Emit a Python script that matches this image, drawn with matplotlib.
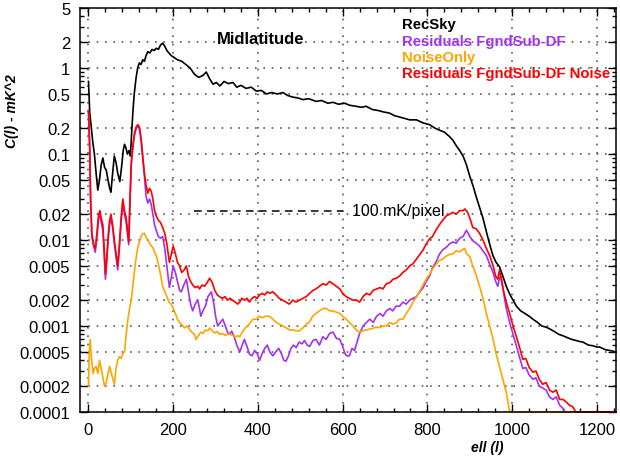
import numpy as np
import matplotlib
matplotlib.use('Agg')
import matplotlib.pyplot as plt
import matplotlib.transforms as mtransforms
from matplotlib.ticker import FixedLocator, FixedFormatter, MultipleLocator, LogLocator, NullFormatter

plt.rcParams['font.family'] = ['Liberation Sans', 'DejaVu Sans']

# RecSky
sky_ell = [0, 3, 6, 10, 14, 18, 22, 26, 30, 34, 38, 42, 46, 50, 53, 57, 61, 65, 69, 74, 78, 82, 85, 88, 92,
           96, 99, 102, 105, 108, 112, 116, 120, 124, 128, 132, 136, 140, 145, 150, 155, 160, 165, 170, 175,
           180, 185, 190, 195, 200, 210, 220, 230, 240, 250, 260, 270, 278, 286, 294, 302, 310, 320, 330, 341,
           350, 360, 372, 384, 396, 408, 420, 432, 446, 459, 470, 482, 494, 506, 520, 537, 550, 565, 577, 590,
           605, 616, 630, 645, 655, 670, 685, 695, 710, 722, 734, 746, 758, 774, 790, 805, 818, 828, 840, 852,
           860, 868, 876, 884, 892, 900, 908, 915, 923, 931, 940, 948, 955, 962, 970, 978, 986, 995, 1002, 1010,
           1020, 1030, 1040, 1049, 1060, 1070, 1080, 1088, 1100, 1110, 1120, 1128, 1140, 1150, 1160, 1167, 1180,
           1190, 1200, 1206, 1220, 1230, 1245]
sky_cl = [0.7, 0.3, 0.22, 0.14, 0.1, 0.06, 0.038, 0.05, 0.075, 0.09, 0.07, 0.065, 0.05, 0.04, 0.036, 0.06,
          0.095, 0.08, 0.06, 0.048, 0.07, 0.11, 0.13, 0.12, 0.1, 0.11, 0.095, 0.18, 0.32, 0.5, 0.75, 1.0, 1.15,
          1.1, 1.25, 1.2, 1.4, 1.55, 1.5, 1.65, 1.6, 1.7, 1.65, 1.85, 1.95, 1.8, 1.6, 1.5, 1.4, 1.35, 1.25, 1.2,
          1.1, 1.0, 0.85, 0.78, 0.82, 0.9, 0.75, 0.65, 0.68, 0.62, 0.7, 0.66, 0.68, 0.6, 0.63, 0.58, 0.6, 0.54,
          0.55, 0.5, 0.52, 0.5, 0.52, 0.48, 0.46, 0.45, 0.43, 0.44, 0.41, 0.42, 0.39, 0.4, 0.38, 0.39, 0.37,
          0.36, 0.35, 0.36, 0.33, 0.32, 0.31, 0.3, 0.28, 0.27, 0.26, 0.25, 0.25, 0.23, 0.22, 0.2, 0.19, 0.18,
          0.16, 0.145, 0.125, 0.11, 0.095, 0.075, 0.055, 0.042, 0.032, 0.024, 0.018, 0.012, 0.0085, 0.0065,
          0.0055, 0.0049, 0.0038, 0.0029, 0.0023, 0.002, 0.0017, 0.0015, 0.0014, 0.0013, 0.0012, 0.0011, 0.001,
          0.00097, 0.00093, 0.00086, 0.0008, 0.00077, 0.00074, 0.0007, 0.00068, 0.00066, 0.00065, 0.0006,
          0.00059, 0.00057, 0.00057, 0.00053, 0.00052, 0.0005]

# Residuals FgndSub-DF Noise
res_noise_ell = [0, 3, 5, 8, 12, 16, 20, 24, 27, 30, 34, 37, 40, 43, 47, 50, 53, 57, 61, 65, 69, 73, 77, 81, 85,
                 89, 92, 95, 98, 101, 105, 109, 113, 117, 121, 125, 128, 132, 136, 140, 144, 148, 152, 156, 160,
                 165, 170, 175, 180, 185, 191, 196, 200, 205, 210, 215, 220, 226, 231, 236, 241, 246, 252, 258,
                 262, 268, 274, 280, 286, 292, 298, 304, 309, 316, 322, 328, 334, 340, 346, 352, 357, 362, 368,
                 374, 380, 386, 392, 398, 404, 410, 416, 422, 428, 435, 443, 450, 458, 466, 474, 482, 490, 498,
                 506, 514, 522, 530, 537, 545, 553, 561, 569, 577, 585, 593, 600, 608, 616, 624, 632, 640, 648,
                 656, 664, 672, 680, 688, 695, 703, 711, 719, 727, 734, 742, 750, 758, 766, 774, 782, 790, 797,
                 805, 812, 820, 828, 836, 844, 852, 860, 868, 876, 884, 888, 895, 900, 907, 915, 923, 931, 939,
                 947, 955, 961, 966, 970, 974, 980, 986, 994, 1002, 1010, 1018, 1025, 1032, 1040, 1049, 1056,
                 1064, 1072, 1080, 1088, 1096, 1104, 1112, 1120, 1128, 1135, 1143, 1150, 1245]
res_noise_cl = [0.32, 0.12, 0.03, 0.012, 0.009, 0.008, 0.012, 0.02, 0.022, 0.018, 0.015, 0.008, 0.004, 0.006,
                0.012, 0.017, 0.02, 0.015, 0.01, 0.007, 0.005, 0.009, 0.018, 0.03, 0.022, 0.018, 0.013, 0.0095,
                0.03, 0.08, 0.13, 0.18, 0.21, 0.22, 0.2, 0.14, 0.095, 0.06, 0.043, 0.035, 0.04, 0.037, 0.03,
                0.022, 0.019, 0.017, 0.016, 0.014, 0.012, 0.009, 0.0055, 0.007, 0.0085, 0.007, 0.0055, 0.005,
                0.0042, 0.0045, 0.005, 0.0038, 0.0033, 0.003, 0.0028, 0.0029, 0.0027, 0.003, 0.0029, 0.0032,
                0.0036, 0.0032, 0.0026, 0.0023, 0.0022, 0.0021, 0.0022, 0.002, 0.0021, 0.002, 0.0019, 0.0018,
                0.0019, 0.0021, 0.002, 0.0021, 0.0019, 0.0021, 0.0022, 0.0021, 0.0023, 0.0024, 0.0023, 0.0025,
                0.0024, 0.0025, 0.0023, 0.0021, 0.002, 0.0019, 0.0018, 0.002, 0.0019, 0.002, 0.0021, 0.0022,
                0.0024, 0.0026, 0.0027, 0.0029, 0.0031, 0.003, 0.0033, 0.0031, 0.0029, 0.0027, 0.0024, 0.0022,
                0.0021, 0.002, 0.002, 0.0019, 0.0022, 0.0024, 0.0023, 0.0026, 0.0027, 0.0028, 0.0027, 0.0031,
                0.0032, 0.0035, 0.0036, 0.0038, 0.0042, 0.0045, 0.005, 0.0053, 0.006, 0.0068, 0.0077, 0.009,
                0.0103, 0.011, 0.013, 0.015, 0.017, 0.019, 0.02, 0.021, 0.02, 0.022, 0.022, 0.023, 0.021, 0.018,
                0.014, 0.0135, 0.012, 0.01, 0.008, 0.0066, 0.005, 0.0038, 0.0035, 0.0045, 0.0035, 0.0025, 0.0019,
                0.0014, 0.001, 0.00075, 0.00055, 0.00041, 0.00042, 0.00033, 0.00029, 0.0003, 0.00024, 0.00021,
                0.00022, 0.00018, 0.00017, 0.00018, 0.00014, 0.00014, 0.00013, 0.00012, 0.000115, 0.0001, 0.0001]

# Residuals FgndSub-DF
res_ell = [0, 3, 5, 8, 12, 16, 20, 24, 27, 30, 34, 37, 40, 43, 47, 50, 53, 57, 61, 65, 69, 73, 77, 81, 85, 89,
           92, 95, 98, 101, 105, 109, 113, 117, 121, 125, 128, 132, 136, 140, 144, 148, 152, 156, 160, 165,
           170, 175, 180, 185, 191, 196, 200, 205, 210, 215, 219, 225, 231, 236, 241, 246, 252, 258, 262, 265,
           270, 276, 282, 290, 296, 300, 305, 311, 317, 323, 328, 333, 338, 344, 350, 357, 363, 368, 374, 380,
           386, 392, 398, 404, 410, 416, 422, 428, 435, 442, 449, 455, 461, 466, 472, 478, 484, 490, 497, 504,
           510, 516, 522, 530, 537, 545, 553, 561, 569, 577, 585, 593, 600, 605, 610, 616, 622, 628, 634, 640,
           648, 656, 664, 672, 680, 688, 695, 703, 711, 718, 726, 734, 742, 750, 758, 766, 774, 782, 790, 797,
           805, 812, 820, 828, 836, 844, 852, 860, 868, 876, 884, 892, 900, 907, 915, 923, 931, 939, 947, 955,
           961, 966, 970, 974, 980, 986, 994, 1002, 1010, 1018, 1025, 1032, 1040, 1049, 1056, 1064, 1072, 1080,
           1088, 1096, 1104, 1112, 1120, 1125, 1245]
res_cl = [0.31, 0.11, 0.028, 0.011, 0.0085, 0.0072, 0.011, 0.018, 0.02, 0.016, 0.013, 0.007, 0.0035, 0.0055,
          0.011, 0.015, 0.018, 0.014, 0.009, 0.0063, 0.0045, 0.008, 0.016, 0.027, 0.02, 0.016, 0.012, 0.0088,
          0.028, 0.075, 0.12, 0.17, 0.2, 0.21, 0.19, 0.13, 0.09, 0.055, 0.032, 0.027, 0.03, 0.026, 0.02, 0.015,
          0.013, 0.011, 0.0105, 0.011, 0.008, 0.005, 0.0028, 0.0038, 0.005, 0.0042, 0.0033, 0.0026, 0.0025,
          0.003, 0.0035, 0.0025, 0.0018, 0.0015, 0.0018, 0.002, 0.0016, 0.0013, 0.0015, 0.0017, 0.0022, 0.0025,
          0.0018, 0.0013, 0.001, 0.0011, 0.0012, 0.001, 0.00085, 0.0008, 0.00087, 0.00075, 0.0006, 0.0005,
          0.0006, 0.0007, 0.00058, 0.00047, 0.00045, 0.00052, 0.00048, 0.0004, 0.00048, 0.00055, 0.0006, 0.0005,
          0.00045, 0.0005, 0.00055, 0.00048, 0.0004, 0.00039, 0.00045, 0.00055, 0.0006, 0.00056, 0.00065,
          0.00062, 0.00068, 0.0006, 0.00058, 0.00068, 0.0007, 0.0006, 0.00075, 0.0007, 0.00082, 0.00085,
          0.00072, 0.0007, 0.00058, 0.00048, 0.00045, 0.00045, 0.00055, 0.00052, 0.00065, 0.00082, 0.001,
          0.0011, 0.0012, 0.0011, 0.0013, 0.0014, 0.0013, 0.0015, 0.0016, 0.0015, 0.0017, 0.0017, 0.0019,
          0.0018, 0.002, 0.0021, 0.0022, 0.0025, 0.0028, 0.0033, 0.0038, 0.0048, 0.0055, 0.0068, 0.0077,
          0.0082, 0.009, 0.0095, 0.0092, 0.0105, 0.011, 0.013, 0.011, 0.0098, 0.0092, 0.0085, 0.0075, 0.0066,
          0.0052, 0.0042, 0.0033, 0.0029, 0.0036, 0.0038, 0.0024, 0.0016, 0.0011, 0.0008, 0.00058, 0.00042,
          0.00032, 0.00033, 0.00027, 0.00024, 0.00025, 0.0002, 0.00019, 0.00018, 0.00015, 0.00014, 0.00015,
          0.00012, 0.00011, 0.0001, 0.0001]

# NoiseOnly
noise_ell = [0, 2, 4, 6, 8, 11, 14, 18, 22, 26, 30, 34, 38, 42, 46, 50, 54, 58, 61, 65, 69, 73, 77, 81, 85, 89,
             93, 97, 101, 105, 109, 113, 116, 120, 124, 128, 132, 136, 139, 143, 148, 152, 156, 160, 165, 170,
             175, 180, 185, 190, 195, 200, 205, 210, 215, 220, 226, 232, 238, 244, 250, 254, 260, 265, 270, 276,
             282, 286, 292, 298, 304, 309, 316, 322, 328, 333, 340, 346, 352, 357, 363, 370, 376, 382, 388, 395,
             403, 410, 418, 427, 435, 443, 451, 459, 467, 475, 482, 490, 498, 506, 514, 521, 529, 537, 545, 553,
             561, 569, 577, 585, 593, 600, 608, 616, 624, 632, 640, 648, 656, 663, 671, 679, 687, 695, 703, 711,
             719, 727, 734, 742, 750, 758, 766, 774, 781, 789, 797, 805, 812, 820, 828, 836, 844, 852, 860, 868,
             876, 884, 888, 892, 900, 907, 915, 923, 931, 939, 947, 955, 962, 970, 978, 986, 994, 1245]
noise_cl = [0.0002, 0.0005, 0.0007, 0.0005, 0.00038, 0.00028, 0.00032, 0.00034, 0.00028, 0.0004, 0.00032,
            0.00025, 0.0002, 0.00022, 0.00028, 0.00034, 0.00028, 0.00024, 0.00021, 0.00032, 0.0004, 0.00044,
            0.00042, 0.00048, 0.0005, 0.0008, 0.0012, 0.0016, 0.002, 0.003, 0.0046, 0.0065, 0.008, 0.0095,
            0.011, 0.0118, 0.012, 0.0108, 0.0103, 0.0095, 0.0085, 0.0082, 0.0072, 0.0066, 0.0052, 0.004, 0.0029,
            0.0025, 0.0022, 0.0019, 0.0018, 0.0016, 0.0014, 0.0012, 0.0011, 0.00105, 0.00095, 0.001, 0.00092,
            0.00085, 0.0008, 0.0007, 0.00078, 0.00085, 0.00082, 0.0009, 0.00088, 0.00095, 0.00088, 0.00083,
            0.00086, 0.0008, 0.00082, 0.00078, 0.0008, 0.0008, 0.00078, 0.00075, 0.00077, 0.00075, 0.00085,
            0.00095, 0.001, 0.0011, 0.0012, 0.0012, 0.0013, 0.00125, 0.0013, 0.0013, 0.0012, 0.0011, 0.00105,
            0.001, 0.00095, 0.0009, 0.0009, 0.00088, 0.00088, 0.00095, 0.00105, 0.0011, 0.0013, 0.0014, 0.0015,
            0.0016, 0.0016, 0.0015, 0.0015, 0.00145, 0.0014, 0.0013, 0.0012, 0.0011, 0.001, 0.0009, 0.00085,
            0.00088, 0.0009, 0.00092, 0.00094, 0.00097, 0.00096, 0.001, 0.001, 0.0011, 0.00105, 0.0011, 0.0012,
            0.0012, 0.0014, 0.0016, 0.0019, 0.0022, 0.0025, 0.003, 0.0035, 0.004, 0.0046, 0.0052, 0.0058, 0.006,
            0.0065, 0.0068, 0.0069, 0.0075, 0.0073, 0.0078, 0.008, 0.007, 0.0064, 0.005, 0.0039, 0.0029, 0.0021,
            0.0014, 0.001, 0.0007, 0.00048, 0.00034, 0.00024, 0.00017, 0.0001, 0.0001]

ref_level = 0.022
ref_range = [250, 600]

ytick_vals = [0.0001, 0.0002, 0.0005, 0.001, 0.002, 0.005, 0.01, 0.02, 0.05, 0.1, 0.2, 0.5, 1, 2, 5]
ytick_labels = ['0.0001', '0.0002', '0.0005', '0.001', '0.002', '0.005', '0.01', '0.02',
                '0.05', '0.1', '0.2', '0.5', '1', '2', '5']

purple = '#a032f0'
orange = '#ffa500'

fig = plt.figure(figsize=(6.2, 4.6), dpi=100)
ax = fig.add_axes([80 / 620, 47 / 460, 536 / 620, 404 / 460])

# lines sitting on the 1e-4 floor should show fully on the bottom axis
ax.plot(sky_ell, sky_cl, color='black', lw=1.2, clip_on=False)
ax.plot(res_ell, res_cl, color=purple, lw=1.2, clip_on=False)
ax.plot(noise_ell, noise_cl, color=orange, lw=1.2, clip_on=False)
ax.plot(res_noise_ell, res_noise_cl, color='red', lw=1.2, clip_on=False)
ax.plot(ref_range, [ref_level, ref_level], color='black', lw=1.1, ls=(0, (5, 3.5)))

ax.set_yscale('log')
ax.set_xlim(-20, 1245)
ax.set_ylim(0.0001, 5)

ax.yaxis.set_major_locator(FixedLocator(ytick_vals))
ax.yaxis.set_major_formatter(FixedFormatter(ytick_labels))
ax.yaxis.set_minor_locator(LogLocator(base=10, subs=np.arange(1, 10), numticks=20))
ax.yaxis.set_minor_formatter(NullFormatter())
ax.xaxis.set_major_locator(MultipleLocator(200))
ax.xaxis.set_minor_locator(MultipleLocator(40))

ax.tick_params(which='both', direction='in', top=True, right=True, labelsize=12)
ax.tick_params(which='major', length=6, width=1)
ax.tick_params(which='minor', length=3, width=1)
ax.tick_params(axis='both', pad=7)
for s in ax.spines.values():
    s.set_linewidth(1.1)

ax.grid(True, which='major', color='0.35', ls=(0, (1, 4)), lw=1.2)

ax.text(406, 2.23, 'Midlatitude', fontsize=12, fontweight='bold', ha='center', va='center')
ax.text(623, ref_level, '100 mK/pixel', fontsize=11.5, ha='left', va='center')

legend_names = ['RecSky', 'Residuals FgndSub-DF', 'NoiseOnly', 'Residuals FgndSub-DF Noise']
legend_colors = ['black', purple, orange, 'red']
trans = mtransforms.blended_transform_factory(ax.transData, ax.transAxes)
for i, (txt, col) in enumerate(zip(legend_names, legend_colors)):
    ax.text(741, 0.960 - i * 0.0405, txt, color=col, fontsize=10.7, fontweight='bold',
            ha='left', va='center', transform=trans)

fig.text(12 / 620, 1 - 111 / 460, 'C(l) - mK^2', rotation=90, fontsize=10, fontweight='bold',
         fontstyle='italic', ha='center', va='center')
fig.text(487 / 620, 1 - 448 / 460, 'ell (l)', fontsize=10, fontweight='bold',
         fontstyle='italic', ha='center', va='center')

fig.savefig('out.png', dpi=100)
